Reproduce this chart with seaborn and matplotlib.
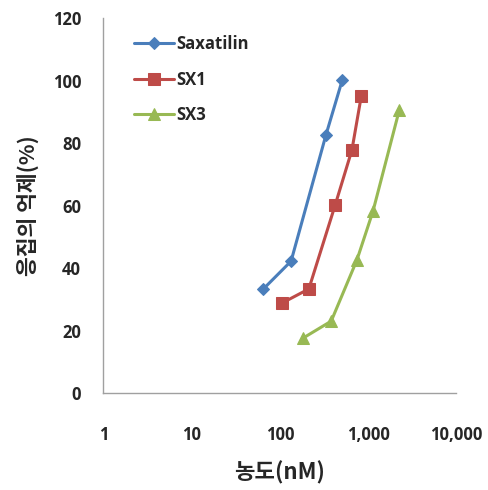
import matplotlib
matplotlib.use("Agg")
import matplotlib.pyplot as plt
import seaborn as sns
import pandas as pd
from matplotlib.ticker import FixedLocator, NullLocator

sax_x = [65, 134, 333, 510]
sax_y = [33.3, 42.2, 82.6, 100.2]
sx1_x = [106, 213, 424, 656, 837]
sx1_y = [28.8, 33.3, 60.2, 77.8, 95.0]
sx3_x = [184, 382, 748, 1137, 2260]
sx3_y = [17.6, 23.0, 42.6, 58.2, 90.6]
series = ["Saxatilin", "SX1", "SX3"]
x_ticks = [1, 10, 100, 1000, 10000]
x_tick_labels = ["1", "10", "100", "1,000", "10,000"]
y_ticks = [0, 20, 40, 60, 80, 100, 120]

df = pd.concat([
    pd.DataFrame({"x": sax_x, "y": sax_y, "s": series[0]}),
    pd.DataFrame({"x": sx1_x, "y": sx1_y, "s": series[1]}),
    pd.DataFrame({"x": sx3_x, "y": sx3_y, "s": series[2]}),
])

sns.set_style("white")
plt.rcParams['font.family'] = ['Open Sans', 'Noto Sans CJK KR', 'DejaVu Sans']

fig = plt.figure(figsize=(4.88, 4.90), dpi=100)
ax = fig.add_axes([0.212, 0.198, 0.723, 0.765])

palette = {"Saxatilin": "#4A7EBB", "SX1": "#BE4B48", "SX3": "#98B954"}
markers = {"Saxatilin": "D", "SX1": "s", "SX3": "^"}
sizes_m = {"Saxatilin": 6, "SX1": 9, "SX3": 8}

for s in series:
    sub = df[df.s == s]
    sns.lineplot(data=sub, x="x", y="y", ax=ax, color=palette[s], marker=markers[s],
                 markersize=sizes_m[s], markeredgecolor=palette[s], linewidth=2.2,
                 label=s, sort=False, estimator=None)

ax.set_xscale("log")
ax.set_xlim(1, 10000)
ax.set_ylim(0, 120)
ax.xaxis.set_major_locator(FixedLocator(x_ticks))
ax.xaxis.set_minor_locator(NullLocator())
ax.set_xticklabels(x_tick_labels)
ax.set_yticks(y_ticks)

for sp in ["top", "right"]:
    ax.spines[sp].set_visible(False)
for sp in ["left", "bottom"]:
    ax.spines[sp].set_color("#A0A0A0")
    ax.spines[sp].set_linewidth(1.0)

ax.tick_params(axis="x", direction="out", length=4, color="#A0A0A0", pad=20,
               labelsize=12)
ax.tick_params(axis="y", direction="out", length=4, color="#A0A0A0", pad=12,
               labelsize=12)
for lab in ax.get_xticklabels() + ax.get_yticklabels():
    lab.set_fontweight("bold")

ax.set_xlabel("농도(nM)", fontsize=16, fontweight="bold", labelpad=12,
              family=['Noto Sans CJK KR', 'DejaVu Sans'])
ax.set_ylabel("응집의 억제(%)", fontsize=15.5, fontweight="bold", labelpad=10,
              family=['Noto Sans CJK KR', 'DejaVu Sans'])

leg = ax.legend(loc="upper left", bbox_to_anchor=(0.045, 0.995), frameon=False,
                handlelength=2.4, labelspacing=1.05, handletextpad=0.1,
                prop={"weight": "bold", "size": 12})

fig.savefig("out.png", dpi=100)
